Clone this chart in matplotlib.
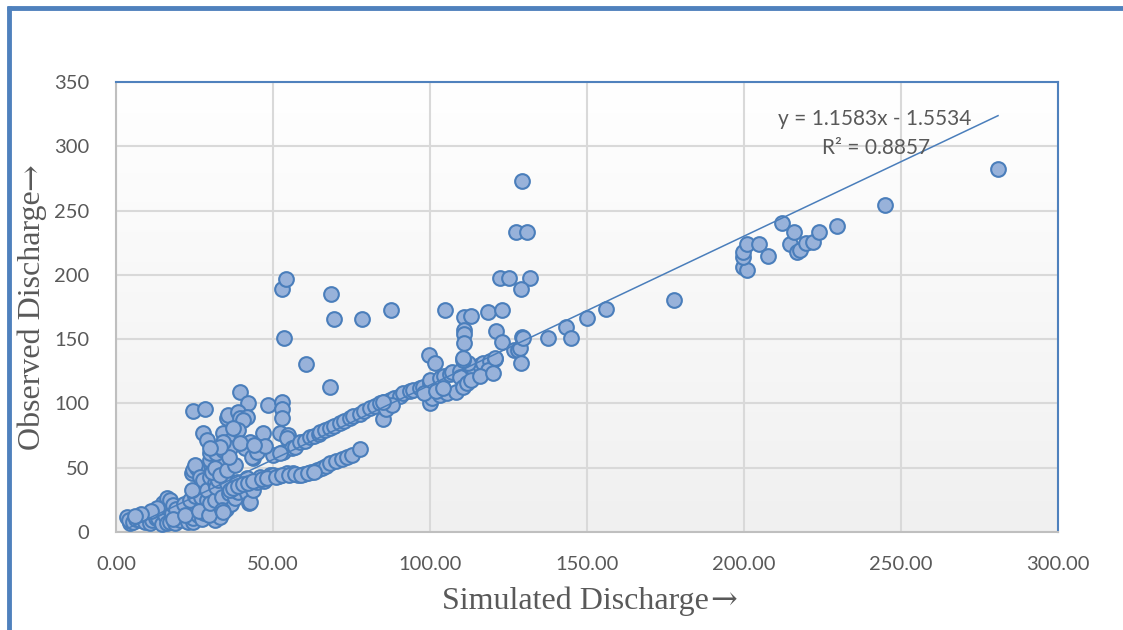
import matplotlib
matplotlib.use("Agg")
import matplotlib.pyplot as plt
import numpy as np
from matplotlib.lines import Line2D
from matplotlib.colors import LinearSegmentedColormap

# ---------------- data ----------------
pts_origin = [(3.4,11.7),(4.5,6.8),(4.0,9.5),(5.5,8.0),(6.5,10.5),(7.6,9.0),(8.5,12.0),(9.2,7.5),
    (10.0,13.0),(10.8,6.8),(11.5,9.3),(12.0,15.0),(12.8,11.0),(13.5,10.6),(14.0,17.0),(14.5,6.5),
    (15.1,22.3),(15.5,13.0),(16.1,6.8),(16.1,26.2),(16.6,19.0),(17.2,8.0),(17.2,24.9),(17.8,15.0),
    (18.2,21.0),(18.8,7.0),(19.5,12.0),(20.4,9.3),(20.5,17.0),(21.0,14.0),(22.0,20.0),(22.5,11.0),
    (23.0,7.5),(24.2,16.0),(24.6,8.0),(24.6,10.6),(25.2,21.0),(26.1,24.9),(26.8,19.7),(26.0,13.0),
    (27.5,10.0),(28.0,15.0),(28.3,21.0),(31.5,9.3),(33.0,12.0),(35.0,18.0),(19.0,18.0),(21.5,22.0),
    (23.5,25.0),(25.0,28.0),(27.0,27.0),(29.0,25.0),(30.5,19.0),(32.0,21.0),(34.5,24.0),(36.5,22.0),
    (13.0,19.0),(11.0,16.0),(8.0,14.0),(6.0,12.5),(18.0,10.5),(22.0,13.5),(26.5,16.5),(29.5,13.0)]
pts_lower = [(24.1,32.7),(24.1,45.7),(24.6,48.2),(25.7,49.5),(25.2,52.1),(26.8,43.0),(27.8,40.4),
    (28.9,32.7),(29.9,43.0),(29.9,22.3),(31.5,24.9),(31.5,37.9),(32.0,35.2),(32.6,40.4),(33.6,27.5),
    (33.6,17.1),(34.2,15.8),(35.2,37.9),(36.0,30.0),(37.9,26.2),(38.4,39.1),(39.0,31.0),(40.0,35.0),
    (41.6,30.1),(41.6,41.8),(42.5,22.3),(42.7,23.6),(43.7,32.7),(44.8,39.1),(45.9,43.0),(47.0,40.0),
    (49.0,44.3),(50.1,44.3),(52.0,43.5),(54.4,45.7),(56.5,45.7),(58.0,44.5),(60.0,45.0),(62.0,46.5),
    (64.0,48.0),(65.5,50.0),(67.0,51.0),(68.2,54.0),(70.0,55.0),(72.0,57.0),(73.5,58.5),(75.0,60.0),
    (77.7,64.5),(36.3,33.0),(37.4,34.0),(38.9,36.0),(40.5,37.0),(42.0,38.5),(43.5,39.5),(46.5,41.5),
    (48.0,42.0),(51.0,43.0),(53.0,44.0),(55.0,44.0),(57.0,45.0),(59.0,44.5),(61.0,46.0),(63.0,47.0)]
pts_middle = [(24.6,94.1),(28.3,95.4),(39.5,109.1),(42.1,100.1),(48.5,98.8),(52.8,101.3),(52.8,95.4),
    (52.8,88.4),(35.2,88.4),(35.7,91.0),(39.0,93.6),(39.5,88.4),(41.6,89.7),(40.5,87.1),(27.8,76.8),
    (28.9,71.6),(34.2,76.8),(35.2,70.2),(37.4,72.9),(39.0,79.3),(37.4,80.7),(42.7,70.2),(43.7,57.3),
    (41.1,65.1),(31.0,61.2),(32.6,54.7),(29.9,56.0),(46.9,76.8),(52.2,76.8),(54.9,75.4),(54.4,72.9),
    (50.1,59.9),(53.3,62.5),(55.9,65.1),(29.9,61.2),(32.0,61.2),(34.2,63.8),(36.3,65.1),(39.5,69.0),
    (43.2,58.6),(52.2,61.2),(30.5,47.0),(31.5,50.0),(33.0,44.0),(35.5,48.0),(38.0,52.0),(36.0,58.0),
    (34.0,70.0),(33.0,66.0),(30.0,65.0),(45.0,62.0),(47.5,67.0),(44.0,68.0)]
pts_upper = [(57.0,66.5),(58.6,70.2),(60.2,71.0),(61.8,73.9),(63.0,75.0),(64.5,76.5),(65.0,77.8),
    (66.5,79.0),(68.2,80.9),(69.5,82.5),(71.3,84.8),(72.5,86.0),(74.5,89.0),(75.5,90.2),(77.7,92.0),
    (79.0,94.1),(80.9,96.5),(82.5,98.0),(84.1,100.0),(85.5,101.1),(87.3,103.0),(88.5,104.2),(90.4,106.0),
    (91.5,107.9),(93.6,109.5),(94.7,110.4),(96.8,112.0),(97.9,113.0),(100.0,116.0),(100.0,118.2),
    (103.2,119.8),(104.5,121.0),(106.4,122.9),(106.9,124.7),(109.6,125.2),(112.7,128.3),(113.8,127.3),
    (115.9,129.9),(117.0,131.7),(119.1,133.0),(120.7,134.6),(112.2,131.2),(110.6,133.8),
    (85.1,88.0),(86.0,96.0),(88.0,99.0),(85.1,101.3),(100.0,100.1),(100.5,104.0),(103.2,106.6),
    (105.3,107.9),(108.4,109.1),(109.6,120.8),(110.6,113.0),(111.7,115.6),(118.6,126.0),(113.0,118.0),
    (116.0,121.0),(120.0,124.0),(98.0,108.0),(102.0,110.0),(104.0,112.0)]
pts_outlier = [(53.6,150.6),(52.8,189.0),(54.1,197.0),(60.4,130.7),(68.2,113.0),(68.4,184.9),(69.4,165.4),
    (78.4,165.4),(87.5,172.7),(99.8,137.7),(101.6,131.2),(104.8,172.7),(110.9,167.5),(112.9,168.3),
    (118.6,170.9),(122.8,172.7),(110.9,157.1),(110.9,154.0),(110.9,147.3),(120.9,156.3),(123.0,147.8),
    (110.6,135.1),(120.7,135.1),(122.3,197.3),(125.0,197.3),(131.8,197.3),(128.9,188.8),(127.3,233.1),
    (130.8,233.1),(129.4,273.2),(126.6,141.6),(128.1,141.6),(128.7,142.9),(128.9,131.2),(129.2,151.4),
    (129.7,150.6),(137.6,150.6),(143.2,159.7),(144.8,150.6),(149.9,166.7),(156.0,173.2),(177.8,180.4),
    (199.8,206.4),(201.0,203.8),(199.8,214.1),(199.8,218.0),(200.8,223.8),(204.9,223.8),(207.7,214.7),
    (212.0,240.6),(214.6,223.8),(216.0,233.1),(216.8,218.0),(217.8,219.3),(219.7,224.5),(222.1,225.8),
    (223.9,233.1),(229.7,238.0),(244.9,254.3),(280.9,282.3)]

slope, intercept, r2 = 1.1583, -1.5534, 0.8857
x_ticks = [0, 50, 100, 150, 200, 250, 300]
y_ticks = [0, 50, 100, 150, 200, 250, 300, 350]
x_title, y_title, arrow = "Simulated Discharge", "Observed Discharge", "→"

all_pts = pts_origin + pts_lower + pts_middle + pts_upper + pts_outlier
sim = np.array([p[0] for p in all_pts])
obs = np.array([p[1] for p in all_pts])

# ---------------- figure ----------------
W, H, DPI = 1123, 630, 100
fig = plt.figure(figsize=(W / DPI, H / DPI), dpi=DPI)
fig.patch.set_facecolor("white")

ax = fig.add_axes([116 / W, 1 - 532 / H, (1058 - 116) / W, (532 - 82) / H])
ax.set_xlim(0, 300)
ax.set_ylim(0, 350)

# gradient background
cmap = LinearSegmentedColormap.from_list("bg", ["#f0f0f0", "#ffffff"])
grad = np.linspace(0, 1, 256).reshape(-1, 1)
ax.imshow(grad, extent=[0, 300, 0, 350], aspect="auto", cmap=cmap, origin="lower", zorder=0)

ax.set_axisbelow(True)
ax.grid(True, color="#d9d9d9", linewidth=1.5)

ax.scatter(sim, obs, s=112, facecolor="#98b2da", edgecolor="#4a7ebb", linewidth=1.5, zorder=3)

xl = np.array([sim.min(), sim.max()])
ax.plot(xl, slope * xl + intercept, color="#4a7ebb", linewidth=1.1, zorder=4)

for s in ["left", "bottom"]:
    ax.spines[s].set_color("#bfbfbf")
    ax.spines[s].set_linewidth(1.5)
for s in ["top", "right"]:
    ax.spines[s].set_color("#4f81bd")
    ax.spines[s].set_linewidth(1.5)

tick_font = dict(family=["Lato", "DejaVu Sans"], size=14.5, color="#595959")
ax.set_xticks(x_ticks)
ax.set_xticklabels([f"{v:.2f}" for v in x_ticks], **tick_font)
ax.set_yticks(y_ticks)
ax.set_yticklabels([str(v) for v in y_ticks], **tick_font)
ax.tick_params(axis="both", length=0)
ax.tick_params(axis="x", pad=17)
ax.tick_params(axis="y", pad=19)

# axis titles: words in serif, arrow in DejaVu Serif (longer glyph), joined tightly
serif = ["Liberation Serif", "DejaVu Serif"]
renderer = fig.canvas.get_renderer()
title_kw = dict(size=23, color="#595959")

# x title
tx = fig.text(0, 1 - 601 / H, x_title, ha="left", va="center", family=serif, **title_kw)
ta = fig.text(0, 1 - 601 / H, arrow, ha="left", va="center", family=["DejaVu Serif"], **title_kw)
w1 = tx.get_window_extent(renderer).width
w2 = ta.get_window_extent(renderer).width
start = 589 - (w1 + w2) / 2
tx.set_x(start / W)
ta.set_x((start + w1 + 1) / W)

# y title (rotated)
ty = fig.text(32 / W, 0, y_title, ha="center", va="bottom", rotation=90, family=serif, **title_kw)
tya = fig.text(32 / W, 0, arrow, ha="center", va="bottom", rotation=90, family=["DejaVu Serif"], **title_kw)
h1 = ty.get_window_extent(renderer).height
h2 = tya.get_window_extent(renderer).height
centre_from_bottom = H - 307
b0 = centre_from_bottom - (h1 + h2) / 2
ty.set_y(b0 / H)
tya.set_y((b0 + h1 + 1) / H)

eq_font = dict(family=["Lato", "DejaVu Sans"], size=15, color="#595959")
fig.text(875 / W, 1 - 119 / H, f"y = {slope}x - {abs(intercept)}", ha="center", va="center", **eq_font)
fig.text(876 / W, 1 - 148 / H, f"R² = {r2}", ha="center", va="center", **eq_font)

# outer blue frame (left and top edges)
fig.add_artist(Line2D([8.5 / W, 8.5 / W], [0, 1 - 6 / H], transform=fig.transFigure,
                      color="#4f81bd", linewidth=3.5, solid_capstyle="butt"))
fig.add_artist(Line2D([7 / W, 1], [1 - 7.5 / H, 1 - 7.5 / H], transform=fig.transFigure,
                      color="#4f81bd", linewidth=3.5, solid_capstyle="butt"))

fig.savefig("out.png", dpi=DPI)
